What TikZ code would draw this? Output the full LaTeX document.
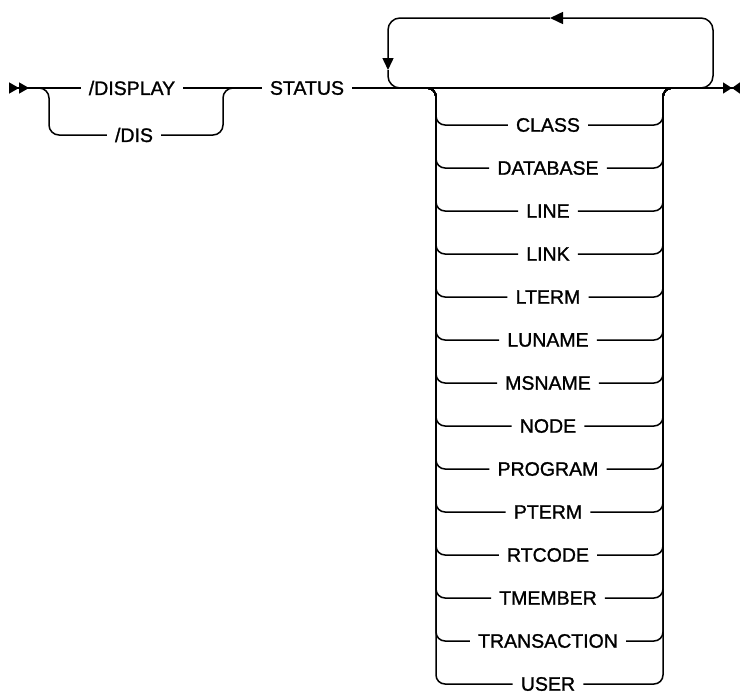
\documentclass[tikz,border=0pt]{standalone}
\usepackage{fontspec}
\setmainfont{Liberation Sans}
\newfontfamily\railfont{Liberation Sans}[FakeBold=1.2]
\usetikzlibrary{arrows.meta}

\begin{document}
\begin{tikzpicture}[x=1pt,y=-1pt,
kw/.style={inner xsep=8pt,inner ysep=0pt,font=\railfont\fontsize{19.5}{22}\selectfont},
rail/.style={line width=1.5pt,rounded corners=#1},
rail/.default=10pt,
loopar/.style={-{Triangle[length=13pt,width=12pt]}}]
\useasboundingbox (0,0) rectangle (740,696);
\coordinate (begin) at (9,88);
\coordinate (fork) at (38,88);
\coordinate (join) at (223,88);
\coordinate (finish) at (740,88);
\coordinate (loopin) at (697,88);
\coordinate (loopse) at (713,88);
\coordinate (loopne) at (713,18);
\coordinate (looptip) at (550,18);
\coordinate (loopnw) at (388,18);
\coordinate (loopdown) at (388,70);
\coordinate (loopsw) at (388,88);
\coordinate (loopout) at (404,88);
\coordinate (stackl) at (426,88);
\coordinate (stacklv) at (436,88);
\coordinate (stackrv) at (663,88);
\coordinate (stackr) at (673,88);
\node[kw] (display) at (132,88) {/DISPLAY};
\node[kw] (dis) at (134,135) {/DIS};
\node[kw] (status) at (307,88) {STATUS};
\draw[rail,{Triangle[length=10pt,width=11pt,reversed]Triangle[length=10pt,width=11pt,reversed]}-] (begin) -- (display.west);
\draw[rail] (fork) -- ++(11,0) |- (dis.west);
\draw[rail] (display.east) -- (status.west);
\draw[rail] (dis.east) -| (join) -- (status.west);
\draw[rail,-{Triangle[length=9pt,width=11pt]Triangle[length=8pt,width=11pt,reversed]}] (status.east) -- (finish);
\draw[rail=12pt,loopar] (loopin) -- (loopse) -- (loopne) -- (looptip);
\draw[rail=12pt,-{Triangle[length=12pt,width=11pt]}] (looptip) -- (loopnw) -- (loopdown);
\draw[rail=12pt] (loopdown) -- (loopsw) -- (loopout);
\foreach \name [count=\i from 0] in {CLASS,DATABASE,LINE,LINK,LTERM,LUNAME,MSNAME,NODE,PROGRAM,PTERM,RTCODE,TMEMBER,TRANSACTION,USER}{
  \node[kw] (\name) at (548,{125+43*\i}) {\name};
  \draw[rail=9pt] (stackl) -- (stacklv) |- (\name.west);
  \draw[rail=9pt] (\name.east) -| (stackrv) -- (stackr);
}
\end{tikzpicture}
\end{document}
